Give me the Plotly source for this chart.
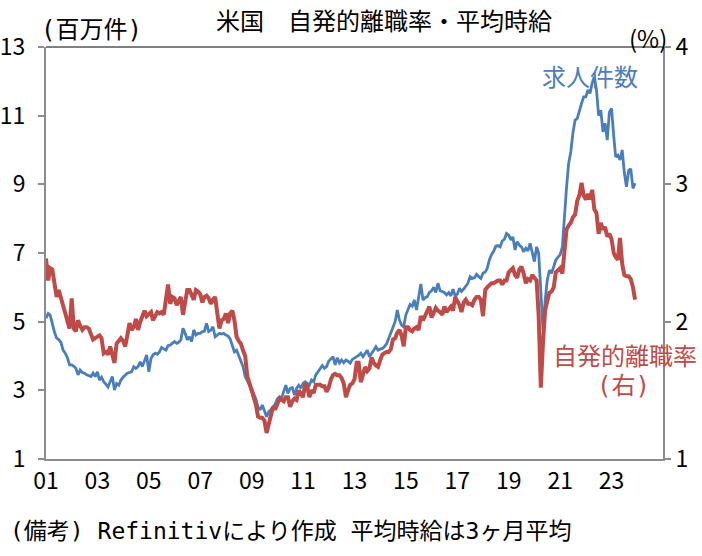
import pandas as pd
import plotly.graph_objects as go

# Monthly, Jan 2001 - Dec 2023
months = pd.date_range("2001-01-01", periods=276, freq="MS")

# 求人件数 (millions), left axis
job_openings = [
    5.10, 5.24, 5.19, 4.90, 4.70, 4.52, 4.48, 4.40, 4.17, 4.08, 3.95, 3.74,   # 2001
    3.74, 3.70, 3.64, 3.45, 3.59, 3.52, 3.50, 3.45, 3.42, 3.40, 3.50, 3.40,   # 2002
    3.54, 3.30, 3.38, 3.25, 3.18, 3.10, 3.25, 3.40, 3.01, 3.20, 3.15, 3.30,   # 2003
    3.38, 3.45, 3.50, 3.52, 3.54, 3.69, 3.64, 3.69, 3.83, 3.69, 3.88, 4.03,   # 2004
    3.54, 3.93, 4.03, 4.08, 4.05, 4.12, 4.25, 4.22, 4.17, 4.30, 4.32, 4.37,   # 2005
    4.42, 4.37, 4.40, 4.47, 4.81, 4.66, 4.47, 4.56, 4.42, 4.76, 4.61, 4.66,   # 2006
    4.66, 4.71, 4.72, 4.95, 4.71, 4.75, 4.85, 4.56, 4.62, 4.66, 4.64, 4.66,   # 2007
    4.61, 4.58, 4.50, 4.32, 4.12, 4.17, 4.00, 3.83, 3.69, 3.40, 3.25, 3.15,   # 2008
    3.05, 2.90, 2.75, 2.52, 2.43, 2.57, 2.40, 2.23, 2.38, 2.43, 2.52, 2.60,   # 2009
    2.75, 2.81, 2.77, 2.95, 3.15, 2.91, 3.06, 3.08, 2.86, 3.06, 3.15, 3.06,   # 2010
    3.20, 3.25, 3.20, 3.15, 3.30, 3.25, 3.45, 3.54, 3.66, 3.72, 3.64, 3.69,   # 2011
    3.85, 3.93, 3.98, 3.74, 3.95, 3.80, 3.88, 3.80, 3.88, 3.85, 3.79, 3.90,   # 2012
    3.93, 3.98, 4.02, 4.08, 3.98, 4.10, 4.17, 3.98, 4.10, 4.17, 4.27, 4.17,   # 2013
    4.20, 4.22, 4.27, 4.35, 4.51, 4.66, 4.85, 5.00, 5.34, 5.05, 4.90, 4.85,   # 2014
    5.20, 5.35, 5.50, 5.45, 5.63, 5.34, 5.75, 6.10, 5.63, 5.70, 5.73, 5.85,   # 2015
    5.90, 6.00, 5.85, 6.12, 5.90, 5.88, 5.85, 5.78, 5.85, 5.75, 5.95, 5.75,   # 2016
    5.80, 5.97, 5.88, 5.95, 6.02, 6.12, 6.31, 6.26, 6.28, 6.38, 6.31, 6.26,   # 2017
    6.41, 6.45, 6.55, 6.80, 6.95, 7.05, 7.20, 7.22, 7.18, 7.35, 7.40, 7.57,   # 2018
    7.52, 7.38, 7.47, 7.09, 7.33, 7.23, 7.18, 7.04, 7.14, 7.06, 7.28, 6.99,   # 2019
    6.75, 7.18, 7.00, 5.90, 4.76, 5.60, 6.20, 6.50, 6.41, 6.60, 6.80, 6.88,   # 2020
    6.95, 7.18, 8.10, 8.90, 9.60, 9.95, 10.50, 10.87, 10.92, 11.16, 11.36, 11.55,  # 2021
    11.55, 11.75, 11.65, 11.95, 12.13, 11.75, 11.00, 11.16, 10.53, 10.78, 10.29, 11.10,  # 2022
    11.21, 10.40, 9.80, 9.85, 9.71, 10.00, 9.35, 8.93, 9.40, 9.45, 8.88, 9.03,  # 2023
]

# 自発的離職率 (%), right axis
quits_rate = [
    2.46, 2.30, 2.39, 2.38, 2.28, 2.18, 2.23, 2.17, 2.12, 2.06, 2.00, 1.95,   # 2001
    2.17, 1.95, 1.93, 2.01, 1.97, 1.94, 1.96, 1.96, 1.95, 1.90, 1.87, 1.88,   # 2002
    1.89, 1.90, 1.88, 1.77, 1.78, 1.76, 1.82, 1.75, 1.70, 1.84, 1.86, 1.88,   # 2003
    1.86, 1.82, 1.90, 1.99, 1.94, 1.96, 2.02, 1.94, 2.00, 2.05, 2.08, 2.04,   # 2004
    2.06, 2.07, 2.01, 2.04, 2.07, 2.06, 2.07, 2.05, 2.15, 2.27, 2.13, 2.18,   # 2005
    2.17, 2.12, 2.15, 2.18, 2.05, 2.15, 2.23, 2.23, 2.20, 2.16, 2.23, 2.22,   # 2006
    2.20, 2.14, 2.18, 2.19, 2.17, 2.13, 2.16, 2.18, 2.06, 1.95, 2.01, 2.02,   # 2007
    2.06, 1.99, 2.06, 2.08, 2.01, 1.89, 1.86, 1.84, 1.79, 1.75, 1.60, 1.55,   # 2008
    1.50, 1.45, 1.40, 1.31, 1.30, 1.30, 1.28, 1.19, 1.26, 1.32, 1.38, 1.36,   # 2009
    1.40, 1.44, 1.43, 1.42, 1.45, 1.45, 1.38, 1.42, 1.44, 1.43, 1.50, 1.48,   # 2010
    1.45, 1.55, 1.53, 1.45, 1.50, 1.48, 1.54, 1.54, 1.54, 1.53, 1.53, 1.49,   # 2011
    1.52, 1.58, 1.61, 1.62, 1.61, 1.61, 1.59, 1.55, 1.45, 1.50, 1.54, 1.55,   # 2012
    1.58, 1.70, 1.70, 1.56, 1.62, 1.67, 1.64, 1.66, 1.74, 1.70, 1.68, 1.67,   # 2013
    1.72, 1.76, 1.77, 1.78, 1.78, 1.80, 1.87, 1.88, 1.92, 1.94, 1.90, 1.82,   # 2014
    1.96, 1.96, 1.94, 1.93, 1.95, 1.96, 1.94, 2.04, 2.01, 2.04, 2.08, 2.11,   # 2015
    2.03, 2.06, 2.10, 2.08, 2.07, 2.05, 2.11, 2.07, 2.09, 2.11, 2.08, 2.18,   # 2016
    2.15, 2.12, 2.07, 2.14, 2.16, 2.13, 2.13, 2.12, 2.16, 2.18, 2.18, 2.16,   # 2017
    2.04, 2.23, 2.25, 2.27, 2.28, 2.28, 2.29, 2.30, 2.30, 2.27, 2.30, 2.30,   # 2018
    2.36, 2.38, 2.39, 2.34, 2.32, 2.38, 2.40, 2.35, 2.28, 2.31, 2.30, 2.34,   # 2019
    2.32, 2.30, 2.05, 1.52, 1.84, 2.08, 2.15, 2.21, 2.22, 2.25, 2.36, 2.38,   # 2020
    2.39, 2.35, 2.55, 2.67, 2.70, 2.72, 2.76, 2.78, 2.88, 2.92, 3.01, 2.92,   # 2021
    2.89, 2.93, 2.89, 2.96, 2.82, 2.79, 2.64, 2.72, 2.67, 2.69, 2.62, 2.64,   # 2022
    2.60, 2.50, 2.47, 2.45, 2.61, 2.42, 2.34, 2.33, 2.33, 2.31, 2.25, 2.16,   # 2023
]

tick_years = [2001, 2003, 2005, 2007, 2009, 2011, 2013, 2015, 2017, 2019, 2021, 2023]
tick_labels = ["01", "03", "05", "07", "09", "11", "13", "15", "17", "19", "21", "23"]

BLUE = "#4A7EBB"
RED = "#BE4B48"
AXIS = "#8C8C8C"
FONT = "Noto Sans CJK JP"
MIX = "DejaVu Sans Mono, Noto Sans CJK JP"

W, H = 702, 556
L, R, T, B = 46, 663, 47, 459


def px(x):
    return (x - L) / (R - L)


def py(y):
    return (B - y) / (B - T)


fig = go.Figure()
fig.add_trace(go.Scatter(x=months, y=quits_rate, yaxis="y2", mode="lines",
                         line=dict(color=RED, width=4), name="自発的離職率（右）"))
fig.add_trace(go.Scatter(x=months, y=job_openings, mode="lines",
                         line=dict(color=BLUE, width=2.8), name="求人件数"))

fig.update_layout(
    width=W, height=H,
    margin=dict(l=L, r=W - R, t=T, b=H - B, pad=0, autoexpand=False),
    paper_bgcolor="white", plot_bgcolor="white",
    showlegend=False,
    font=dict(family=FONT, size=23, color="black"),
    xaxis=dict(
        type="date", automargin=False,
        range=[pd.Timestamp("2001-01-01"), pd.Timestamp("2025-01-01")],
        tickvals=[pd.Timestamp(f"{y}-01-01") for y in tick_years],
        ticktext=tick_labels,
        showgrid=False, zeroline=False,
        showline=True, linecolor=AXIS, linewidth=2,
        ticks="",
        tickfont=dict(size=23),
    ),
    yaxis=dict(
        range=[1, 13], tickvals=[1, 3, 5, 7, 9, 11, 13], automargin=False,
        showgrid=False, zeroline=False,
        showline=True, linecolor=AXIS, linewidth=2,
        ticks="outside", ticklen=6, tickwidth=2, tickcolor=AXIS,
        ticklabelstandoff=8,
        tickfont=dict(size=23),
    ),
    yaxis2=dict(
        range=[1, 4], tickvals=[1, 2, 3, 4], automargin=False,
        overlaying="y", side="right",
        showgrid=False, zeroline=False,
        showline=True, linecolor=AXIS, linewidth=2,
        ticks="outside", ticklen=6, tickwidth=2, tickcolor=AXIS,
        tickfont=dict(size=23),
    ),
)

# top border
fig.add_shape(type="line", xref="paper", yref="paper", x0=0, x1=1, y0=1, y1=1,
              line=dict(color="black", width=1.2))

ann = [
    dict(text="米国　自発的離職率・平均時給", x=px(384), y=py(19), size=24, color="black",
         xanchor="center", family=FONT),
    dict(text="(百万件)", x=px(39), y=py(30), size=24, color="black", xanchor="left", family=MIX),
    dict(text="(%)", x=px(669), y=py(37), size=24, color="black", xanchor="right", family=FONT),
    dict(text="求人件数", x=px(590), y=py(76), size=24, color=BLUE, xanchor="center", family=FONT),
    dict(text="自発的離職率", x=px(625), y=py(354), size=24, color=RED, xanchor="center", family=FONT),
    dict(text="(右)", x=px(623), y=py(386), size=24, color=RED, xanchor="center", family=MIX),
    dict(text="(備考) Refinitivにより作成 平均時給は3ヶ月平均", x=px(8), y=py(531), size=23,
         color="black", xanchor="left", family=MIX),
]
for a in ann:
    fig.add_annotation(text=a["text"], x=a["x"], y=a["y"], xref="paper", yref="paper",
                       xanchor=a["xanchor"], yanchor="middle", showarrow=False,
                       font=dict(family=a["family"], size=a["size"], color=a["color"]))

fig.write_html("out.html")
